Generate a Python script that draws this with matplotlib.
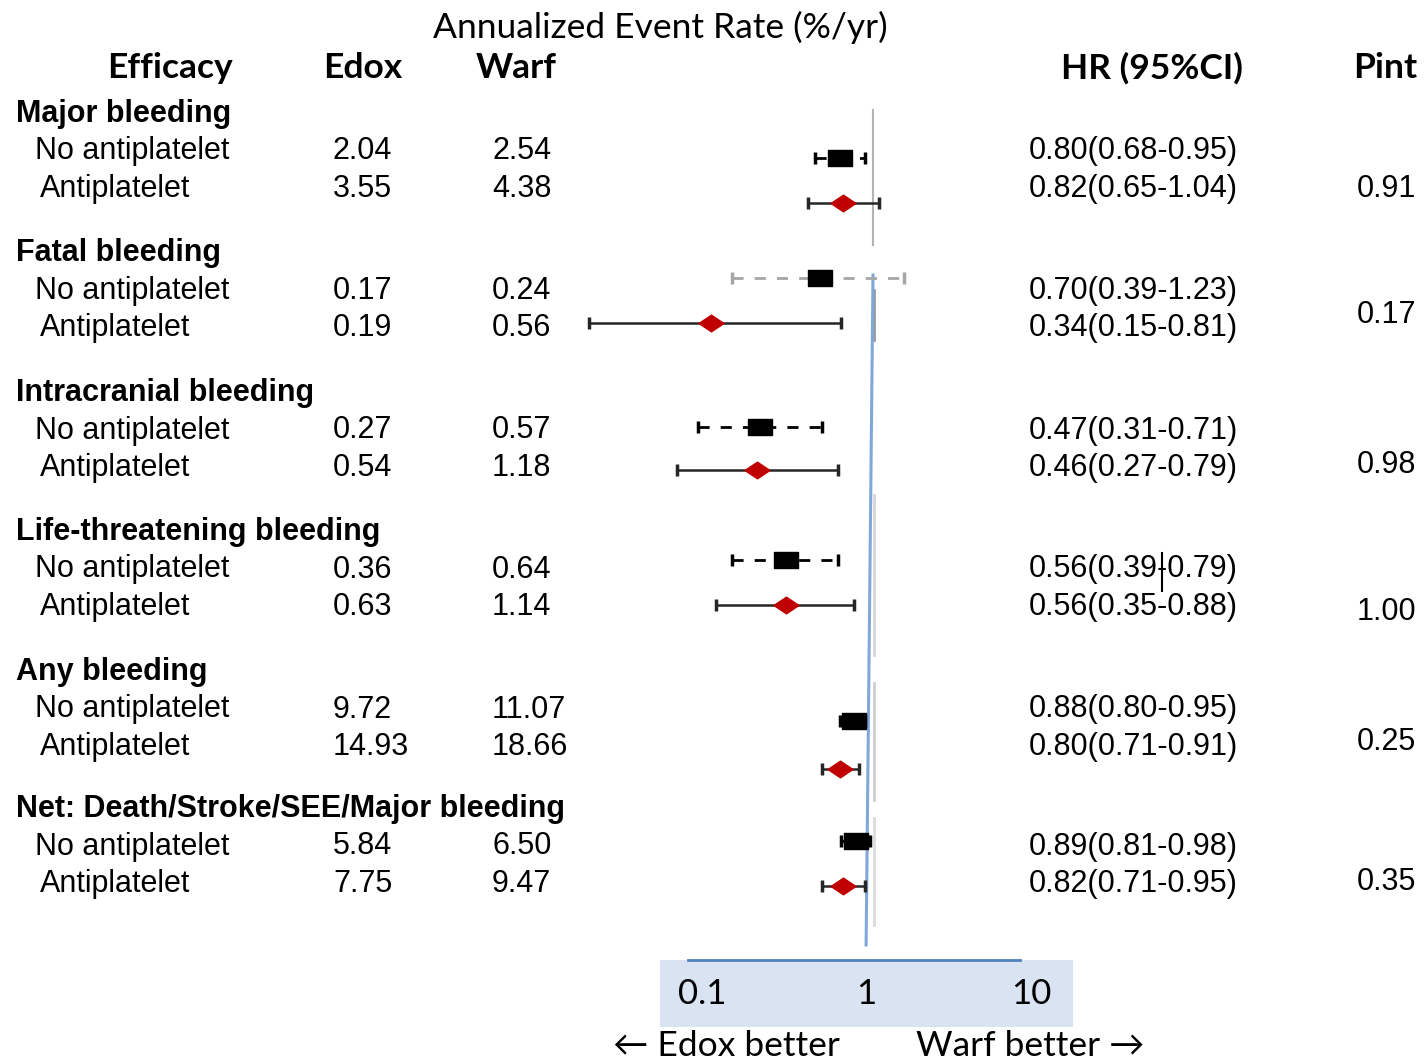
import matplotlib
matplotlib.use("Agg")
import matplotlib.pyplot as plt
from matplotlib.path import Path
from matplotlib.ticker import NullLocator

# Bleeding outcomes, edoxaban vs warfarin, split by antiplatelet use
groups = ['Major bleeding', 'Fatal bleeding', 'Intracranial bleeding',
          'Life-threatening bleeding', 'Any bleeding',
          'Net: Death/Stroke/SEE/Major bleeding']
edox_no = [2.04, 0.17, 0.27, 0.36, 9.72, 5.84]
warf_no = [2.54, 0.24, 0.57, 0.64, 11.07, 6.50]
edox_anti = [3.55, 0.19, 0.54, 0.63, 14.93, 7.75]
warf_anti = [4.38, 0.56, 1.18, 1.14, 18.66, 9.47]
hr_no = [0.80, 0.70, 0.47, 0.56, 0.88, 0.89]
lo_no = [0.68, 0.39, 0.31, 0.39, 0.80, 0.81]
hi_no = [0.95, 1.23, 0.71, 0.79, 0.95, 0.98]
hr_anti = [0.82, 0.34, 0.46, 0.56, 0.80, 0.82]
lo_anti = [0.65, 0.15, 0.27, 0.35, 0.71, 0.71]
hi_anti = [1.04, 0.81, 0.79, 0.88, 0.91, 0.95]
p_int = ['0.91', '0.17', '0.98', '1.00', '0.25', '0.35']
axis_ticks = [0.1, 1, 10]

# layout (pixels from the top-left corner)
W, H = 1425, 1060
group_y = [114, 253, 393, 532, 672, 809]
row_gap = 37.5
shift_no = [6, -13, -4, -10, 11, -6]
shift_anti = [14, -5, 2, -2, 22, 2]
pint_y = [189, 315, 465, 612, 742, 882]
no_dash_color = ['black', '#a6a6a6', 'black', 'black', 'black', 'black']
px_per_decade = 345
one_at = 873

ROW_FONT = 'Liberation Sans'
HEAD_FONT = ['Lato', 'DejaVu Sans']
FS = 22


def fx(px):
    return px / W


def fy(py):
    return 1 - py / H


fig = plt.figure(figsize=(W / 100, H / 100), dpi=100)

# forest area: log HR on x, pixel rows on y
ax = fig.add_axes([0, 0, 1, 1])
ax.set_xscale('log')
ax.set_xlim(10 ** (-one_at / px_per_decade), 10 ** ((W - one_at) / px_per_decade))
ax.set_ylim(H, 0)
ax.axis('off')

# column headers
fig.text(fx(660), fy(27), 'Annualized Event Rate (%/yr)', family=HEAD_FONT,
         fontsize=25.5, ha='center', va='center')
for x, lab in [(170, 'Efficacy'), (363, 'Edox'), (516, 'Warf'),
               (1152, 'HR (95%CI)'), (1385, 'Pint')]:
    fig.text(fx(x), fy(68), lab, family=HEAD_FONT, fontweight='bold',
             fontsize=25.5, ha='center', va='center')

box = Path([(-1.5, -1), (1.5, -1), (1.5, 1), (-1.5, 1), (-1.5, -1)],
           [Path.MOVETO, Path.LINETO, Path.LINETO, Path.LINETO, Path.CLOSEPOLY])
diamond = Path([(-1.5, 0), (0, -1), (1.5, 0), (0, 1), (-1.5, 0)],
               [Path.MOVETO, Path.LINETO, Path.LINETO, Path.LINETO, Path.CLOSEPOLY])

for i, g in enumerate(groups):
    gy = group_y[i]
    y_no = gy + row_gap
    y_anti = gy + 2 * row_gap
    fig.text(fx(16), fy(gy), g, family=ROW_FONT, fontweight='bold',
             fontsize=FS, va='center')
    fig.text(fx(35), fy(y_no), 'No antiplatelet', family=ROW_FONT,
             fontsize=FS, va='center')
    fig.text(fx(40), fy(y_anti), 'Antiplatelet', family=ROW_FONT,
             fontsize=FS, va='center')
    fig.text(fx(333), fy(y_no), f'{edox_no[i]:.2f}', family=ROW_FONT,
             fontsize=FS, va='center')
    fig.text(fx(333), fy(y_anti), f'{edox_anti[i]:.2f}', family=ROW_FONT,
             fontsize=FS, va='center')
    fig.text(fx(492), fy(y_no), f'{warf_no[i]:.2f}', family=ROW_FONT,
             fontsize=FS, va='center')
    fig.text(fx(492), fy(y_anti), f'{warf_anti[i]:.2f}', family=ROW_FONT,
             fontsize=FS, va='center')
    fig.text(fx(1029), fy(y_no),
             f'{hr_no[i]:.2f}({lo_no[i]:.2f}-{hi_no[i]:.2f})',
             family=ROW_FONT, fontsize=FS, va='center')
    fig.text(fx(1029), fy(y_anti),
             f'{hr_anti[i]:.2f}({lo_anti[i]:.2f}-{hi_anti[i]:.2f})',
             family=ROW_FONT, fontsize=FS, va='center')
    fig.text(fx(1416), fy(pint_y[i]), p_int[i], family=ROW_FONT,
             fontsize=FS, va='center', ha='right')

    # no antiplatelet: dashed CI + black box
    my = y_no + shift_no[i]
    eb = ax.errorbar(hr_no[i], my, xerr=[[hr_no[i] - lo_no[i]], [hi_no[i] - hr_no[i]]],
                     fmt='none', ecolor=no_dash_color[i], elinewidth=2,
                     capsize=4, capthick=2.5, zorder=3)
    eb[2][0].set_linestyle((0, (4, 4)))
    ax.plot(hr_no[i], my, marker=box, markersize=17, color='black',
            linestyle='none', zorder=4)

    # antiplatelet: solid CI + red diamond
    my = y_anti + shift_anti[i]
    ax.errorbar(hr_anti[i], my, xerr=[[hr_anti[i] - lo_anti[i]], [hi_anti[i] - hr_anti[i]]],
                fmt='none', ecolor='#262626', elinewidth=1.8,
                capsize=4, capthick=2.5, zorder=3)
    ax.plot(hr_anti[i], my, marker=diamond, markersize=18, color='#c00000',
            linestyle='none', zorder=4)

# line of no effect
ax.plot([1.0, 1.0], [110, 245], color='#b3b3b3', lw=1.5, zorder=2)
for y0, y1, c in [(290, 340, '#9a9a9a'), (495, 655, '#d6d6d6'),
                  (683, 800, '#cfcfcf'), (818, 925, '#dcdcdc')]:
    ax.plot([1.008, 1.008], [y0, y1], color=c, lw=2, zorder=1)
ax.plot([1.0, 0.955], [275, 945], color='#7fa7da', lw=2.2, zorder=2)

# text cursor left in the HR column
fig.add_artist(plt.Line2D([fx(1162), fx(1162)], [fy(553), fy(591)],
                          color='black', lw=1.5))

# scale strip at the bottom
ax2 = fig.add_axes([fx(660), fy(1027), fx(1073) - fx(660), (1027 - 960) / H])
ax2.set_facecolor('#dae3f1')
ax2.set_xscale('log')
span = 42 / 164.5
ax2.set_xlim(10 ** (-1 - span), 10 ** (1 + span))
ax2.set_ylim(0, 1)
for s in ax2.spines.values():
    s.set_visible(False)
ax2.xaxis.set_major_locator(NullLocator())
ax2.xaxis.set_minor_locator(NullLocator())
ax2.set_yticks([])
ax2.axhline(1.0, xmin=(688 - 660) / 413, xmax=(1020 - 660) / 413,
            color='#4f81bd', lw=2, clip_on=False)
for t in axis_ticks:
    ax2.text(t, 0.5, f'{t:g}', family=HEAD_FONT, fontsize=25,
             ha='center', va='center')

fig.text(fx(726), fy(1046), '\u2190 Edox better', family=HEAD_FONT,
         fontsize=25.5, ha='center', va='center')
fig.text(fx(1030), fy(1046), 'Warf better \u2192', family=HEAD_FONT,
         fontsize=25.5, ha='center', va='center')

fig.savefig('out.png', dpi=100, facecolor='white')
